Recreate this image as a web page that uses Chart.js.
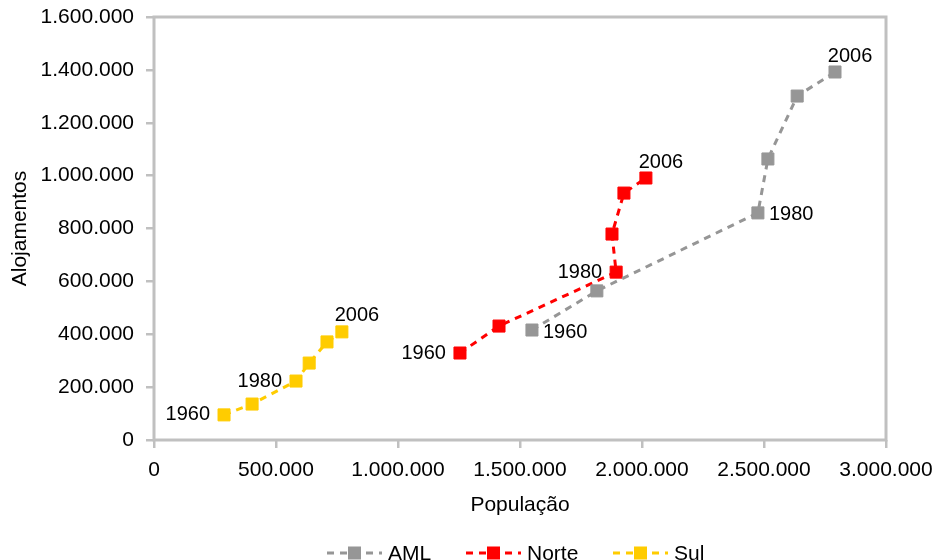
<!DOCTYPE html>
<html>
<head>
<meta charset="utf-8">
<script src="https://cdn.jsdelivr.net/npm/chart.js@4/dist/chart.umd.min.js"></script>
<style>
  html, body { margin: 0; padding: 0; background: #ffffff; }
  #wrap { width: 934px; height: 560px; }
</style>
</head>
<body>
<div id="wrap"><canvas id="chart" width="934" height="560"></canvas></div>
<script>
// Census years for each point of every series
const years = ['1960', '1970', '1980', '1991', '2001', '2006'];
const labelledYears = ['1960', '1980', '2006'];

// Área Metropolitana de Lisboa
const amlPopulation = [1549000, 1815000, 2475000, 2516000, 2636000, 2791000];
const amlDwellings  = [416000, 564000, 859000, 1063000, 1301000, 1392000];
// Norte
const nortePopulation = [1254000, 1414000, 1894000, 1877000, 1926000, 2016000];
const norteDwellings  = [329000, 431000, 635000, 779000, 934000, 991000];
// Sul
const sulPopulation = [287000, 402000, 582000, 636000, 709000, 770000];
const sulDwellings  = [95000, 136000, 223000, 291000, 371000, 409000];

const seriesNames = ['AML', 'Norte', 'Sul'];
const xTickValues = [0, 500000, 1000000, 1500000, 2000000, 2500000, 3000000];
const yTickValues = [0, 200000, 400000, 600000, 800000, 1000000, 1200000, 1400000, 1600000];

const FONT = "'Liberation Sans', Arial, Helvetica, sans-serif";
const AXIS_GREY = '#c0c0c0';

function thousands(v) {
  return String(Math.round(v)).replace(/\B(?=(\d{3})+(?!\d))/g, '.');
}

function points(xs, ys) {
  return xs.map((x, i) => ({ x: x, y: ys[i] }));
}

function series(name, xs, ys, color, placement) {
  return {
    label: name,
    data: points(xs, ys),
    showLine: true,
    borderColor: color,
    backgroundColor: color,
    borderWidth: 3,
    borderDash: [7, 6],
    pointStyle: 'rect',
    pointRadius: 8.5,
    pointHoverRadius: 8.5,
    pointBorderWidth: 1,
    pointBorderColor: color,
    pointBackgroundColor: color,
    yearPlacement: placement
  };
}

// frame around the plot area
const framePlugin = {
  id: 'frame',
  beforeDatasetsDraw(chart) {
    const a = chart.chartArea;
    const ctx = chart.ctx;
    ctx.save();
    ctx.strokeStyle = AXIS_GREY;
    ctx.lineWidth = 3;
    ctx.strokeRect(a.left, a.top, a.right - a.left, a.bottom - a.top);
    ctx.restore();
  }
};

// year labels beside selected points
const yearLabelPlugin = {
  id: 'yearLabels',
  afterDatasetsDraw(chart) {
    const ctx = chart.ctx;
    ctx.save();
    ctx.font = '20px ' + FONT;
    ctx.fillStyle = '#000000';
    ctx.textBaseline = 'middle';
    chart.data.datasets.forEach((ds, di) => {
      const meta = chart.getDatasetMeta(di);
      meta.data.forEach((pt, i) => {
        const yr = years[i];
        if (!labelledYears.includes(yr)) return;
        const where = ds.yearPlacement[yr];
        let x = pt.x, y = pt.y;
        if (where === 'left') {
          ctx.textAlign = 'right';
          x -= 14;
        } else if (where === 'right') {
          ctx.textAlign = 'left';
          x += 11; y += 2;
        } else {
          ctx.textAlign = 'center';
          x += 15; y -= 16;
        }
        ctx.fillText(yr, x, y);
      });
    });
    ctx.restore();
  }
};

// legend with dashed line and square marker
const legendPlugin = {
  id: 'lineLegend',
  afterDraw(chart) {
    const ctx = chart.ctx;
    const starts = [327, 466, 613];
    const y = 553;
    ctx.save();
    chart.data.datasets.forEach((ds, i) => {
      const x0 = starts[i];
      ctx.strokeStyle = ds.borderColor;
      ctx.lineWidth = 3;
      ctx.setLineDash([7, 6]);
      ctx.beginPath();
      ctx.moveTo(x0, y);
      ctx.lineTo(x0 + 55, y);
      ctx.stroke();
      ctx.setLineDash([]);
      ctx.fillStyle = ds.backgroundColor;
      ctx.fillRect(x0 + 27.5 - 6.5, y - 6.5, 13, 13);
      ctx.fillStyle = '#000000';
      ctx.font = '21px ' + FONT;
      ctx.textAlign = 'left';
      ctx.textBaseline = 'middle';
      ctx.fillText(ds.label, x0 + 61, y + 1);
    });
    ctx.restore();
  }
};

new Chart(document.getElementById('chart'), {
  type: 'scatter',
  data: {
    datasets: [
      series(seriesNames[0], amlPopulation, amlDwellings, '#969696',
             { '1960': 'right', '1980': 'right', '2006': 'above' }),
      series(seriesNames[1], nortePopulation, norteDwellings, '#ff0000',
             { '1960': 'left', '1980': 'left', '2006': 'above' }),
      series(seriesNames[2], sulPopulation, sulDwellings, '#ffcc00',
             { '1960': 'left', '1980': 'left', '2006': 'above' })
    ]
  },
  options: {
    responsive: false,
    animation: false,
    devicePixelRatio: 1,
    layout: { padding: { top: 17, left: 0, right: 0, bottom: 40 } },
    plugins: {
      legend: { display: false },
      tooltip: { enabled: false },
      title: { display: false }
    },
    scales: {
      x: {
        type: 'linear',
        min: 0, max: 3000000,
        afterBuildTicks(scale) { scale.ticks = xTickValues.map(v => ({ value: v })); },
        afterFit(scale) {
          scale.height = 80;
          scale.paddingLeft = 0;
          scale.paddingRight = 48;
        },
        border: { display: false },
        grid: { drawOnChartArea: false, drawTicks: true, tickLength: 8, color: AXIS_GREY, lineWidth: 2.5 },
        ticks: { color: '#000000', padding: 10, maxRotation: 0, autoSkip: false,
                 font: { family: FONT, size: 21 }, callback: v => thousands(v) },
        title: { display: true, text: 'População', color: '#000000',
                 font: { family: FONT, size: 21 }, padding: { top: 0, bottom: 2 } }
      },
      y: {
        type: 'linear',
        min: 0, max: 1600000,
        afterBuildTicks(scale) { scale.ticks = yTickValues.map(v => ({ value: v })); },
        afterFit(scale) {
          scale.width = 154;
          scale.paddingTop = 0;
          scale.paddingBottom = 0;
        },
        border: { display: false },
        grid: { drawOnChartArea: false, drawTicks: true, tickLength: 8, color: AXIS_GREY, lineWidth: 2.5 },
        ticks: { color: '#000000', padding: 12, autoSkip: false,
                 font: { family: FONT, size: 21 }, callback: v => thousands(v) },
        title: { display: true, text: 'Alojamentos', color: '#000000',
                 font: { family: FONT, size: 21 }, padding: { top: 8, bottom: 0 } }
      }
    }
  },
  plugins: [framePlugin, yearLabelPlugin, legendPlugin]
});
</script>
</body>
</html>
